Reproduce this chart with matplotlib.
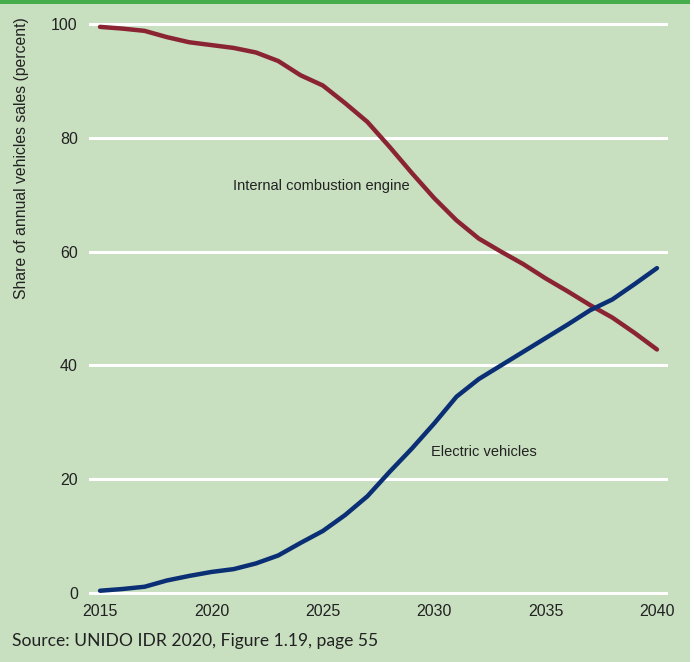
import matplotlib
matplotlib.use("Agg")
import matplotlib.pyplot as plt
from matplotlib.patches import Rectangle

years = list(range(2015, 2041))
ice = [99.5, 99.2, 98.8, 97.7, 96.8, 96.3, 95.8, 95.0, 93.5, 91.0, 89.2, 86.1, 82.8,
       78.4, 73.8, 69.4, 65.5, 62.3, 60.0, 57.8, 55.3, 53.0, 50.6, 48.4, 45.7, 42.8]
ev = [0.4, 0.7, 1.1, 2.2, 3.0, 3.7, 4.2, 5.2, 6.6, 8.8, 10.9, 13.7, 17.0,
      21.3, 25.4, 29.8, 34.5, 37.6, 40.0, 42.4, 44.8, 47.2, 49.7, 51.6, 54.3, 57.1]
yticks = [0, 20, 40, 60, 80, 100]
xticks = [2015, 2020, 2025, 2030, 2035, 2040]

bg = "#c8dfc0"
cond = ["Liberation Sans", "DejaVu Sans"]

fig = plt.figure(figsize=(6.94, 6.62), dpi=100)
fig.patches.append(Rectangle((0, 0), 690 / 694, 1, transform=fig.transFigure,
                             facecolor=bg, edgecolor="none", zorder=-10))
fig.patches.append(Rectangle((0, 1 - 4 / 662), 690 / 694, 4 / 662, transform=fig.transFigure,
                             facecolor="#45ad4b", edgecolor="none", zorder=-9))

ax = fig.add_axes([88.9 / 694, (662 - 598.7) / 662, (668.1 - 88.9) / 694, (598.7 - 15.5) / 662])
ax.set_facecolor("none")
ax.set_xlim(2014.5, 2040.5)
ax.set_ylim(-1, 101.5)
for v in yticks:
    ax.axhline(v, color="white", lw=2.2, zorder=1)

ax.plot(years, ice, color="#8a2433", lw=3.2, solid_capstyle="round", zorder=3, clip_on=False)
ax.plot(years, ev, color="#0b2f74", lw=3.2, solid_capstyle="round", zorder=3, clip_on=False)

for s in ax.spines.values():
    s.set_visible(False)
ax.set_yticks(yticks)
ax.set_xticks(xticks)
ax.set_yticklabels([str(v) for v in yticks], family=cond, fontsize=11.5, color="#222222")
ax.set_xticklabels([str(v) for v in xticks], family=cond, fontsize=11.5, color="#222222")
ax.tick_params(axis="y", length=0, pad=8)
ax.tick_params(axis="x", length=0, pad=4)

ax.text(2020.95, 71.5, "Internal combustion engine", family=cond, fontsize=10.5,
        color="#222222", va="center", ha="left")
ax.text(2029.85, 24.7, "Electric vehicles", family=cond, fontsize=10.5,
        color="#222222", va="center", ha="left")

fig.text(22 / 694, 1 - 17 / 662, "Share of annual vehicles sales (percent)", family=cond,
         fontsize=11.3, rotation=90, ha="center", va="top", color="#222222")
fig.text(12 / 694, 1 - 641 / 662, "Source: UNIDO IDR 2020, Figure 1.19, page 55",
         family=["Lato", "DejaVu Sans"], fontsize=12.6, ha="left", va="center", color="#222222")

fig.savefig("out.png", dpi=100)
